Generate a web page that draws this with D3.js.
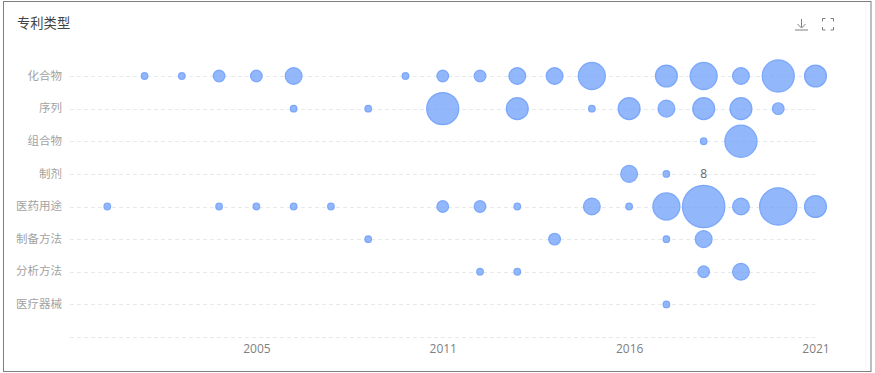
<!DOCTYPE html>
<html>
<head>
<meta charset="utf-8">
<script src="https://cdn.jsdelivr.net/npm/d3@7"></script>
<style>
html, body { margin: 0; padding: 0; background: #fff; }
svg { display: block; }
text { font-family: "Noto Sans CJK SC", "Noto Sans", sans-serif; }
</style>
</head>
<body>
<script>
const years = ["", "2001", "2002", "2003", "2004", "2005", "2006", "2007", "2008", "2009", "2011", "2012", "2013", "2014", "2015", "2016", "2017", "2018", "2019", "2020", "2021"];
const yearLabels = ["2005", "2011", "2016", "2021"];
const types = ["化合物", "序列", "组合物", "制剂", "医药用途", "制备方法", "分析方法", "医疗器械", ""];

// [year, count] per patent type
const compound = [["2002", 1], ["2003", 1], ["2004", 2], ["2005", 2], ["2006", 3], ["2009", 1], ["2011", 2], ["2012", 2], ["2013", 3], ["2014", 3], ["2015", 5], ["2017", 4], ["2018", 5], ["2019", 3], ["2020", 6], ["2021", 4]];
const sequence = [["2006", 1], ["2008", 1], ["2011", 6], ["2013", 4], ["2015", 1], ["2016", 4], ["2017", 3], ["2018", 4], ["2019", 4], ["2020", 2]];
const composition = [["2018", 1], ["2019", 6]];
const formulation = [["2016", 3], ["2017", 1]];
const medical = [["2001", 1], ["2004", 1], ["2005", 1], ["2006", 1], ["2007", 1], ["2011", 2], ["2012", 2], ["2013", 1], ["2015", 3], ["2016", 1], ["2017", 5], ["2018", 8], ["2019", 3], ["2020", 7], ["2021", 4]];
const preparation = [["2008", 1], ["2014", 2], ["2017", 1], ["2018", 3]];
const analysis = [["2012", 1], ["2013", 1], ["2018", 2], ["2019", 3]];
const device = [["2017", 1]];

const rows = [compound, sequence, composition, formulation, medical, preparation, analysis, device];

const width = 875, height = 373;

const svg = d3.select("body").append("svg")
    .attr("width", width)
    .attr("height", height);

// outer frame of the screenshot
svg.append("rect")
    .attr("x", 3.5).attr("y", 1.5)
    .attr("width", 867.5).attr("height", 370)
    .attr("fill", "#fff")
    .attr("stroke", "#7f7f7f");

svg.append("line")
    .attr("x1", 865.5).attr("x2", 865.5)
    .attr("y1", 2).attr("y2", 371)
    .attr("stroke", "#f8f8f8");

svg.append("text")
    .attr("x", 17).attr("y", 28)
    .attr("font-size", "13.3px")
    .attr("fill", "#444")
    .text("专利类型");

const x = d3.scalePoint().domain(years).range([70, 815.5]);
const y = d3.scalePoint().domain(types).range([76, 337]);
const r = d3.scaleLinear().domain([1, 8]).range([3.3, 21.2]);

const xAxis = d3.axisBottom(x).tickValues(yearLabels).tickSize(0).tickPadding(7);
const yAxis = d3.axisLeft(y).tickSize(0).tickPadding(0);

const gx = svg.append("g")
    .attr("transform", `translate(0,${y("")})`)
    .call(xAxis);
gx.select(".domain").remove();
gx.selectAll("text")
    .attr("fill", "#808080")
    .attr("font-size", "12px")
    .style("font-family", '"Open Sans", sans-serif');

const gy = svg.append("g")
    .attr("transform", "translate(62,-0.5)")
    .call(yAxis);
gy.select(".domain").remove();
gy.selectAll("text")
    .attr("fill", "#a3a3a3")
    .attr("font-size", "11.5px");

// dashed row lines
svg.append("g").selectAll("line")
    .data(types)
    .enter().append("line")
    .attr("x1", 70)
    .attr("x2", 815.5)
    .attr("y1", d => Math.round(y(d)) + 0.5)
    .attr("y2", d => Math.round(y(d)) + 0.5)
    .attr("stroke", "#e8e9eb")
    .attr("stroke-dasharray", "4 3");

rows.forEach((row, i) => {
    svg.append("g").selectAll("circle")
        .data(row)
        .enter().append("circle")
        .attr("cx", d => x(d[0]))
        .attr("cy", y(types[i]))
        .attr("r", d => r(d[1]))
        .attr("fill", "#6f9ffa")
        .attr("fill-opacity", 0.75)
        .attr("stroke", "#6f9ffa")
        .attr("stroke-opacity", 0.85)
        .attr("stroke-width", 1.2);
});

// the biggest bubble is the only labelled one
const maxValue = d3.max(medical, d => d[1]);
const maxPoint = medical.find(d => d[1] === maxValue);
svg.append("text")
    .attr("x", x(maxPoint[0]))
    .attr("y", y("医药用途") - r(maxValue) - 7)
    .attr("text-anchor", "middle")
    .attr("font-size", "12px")
    .attr("fill", "#666")
    .style("font-family", '"Open Sans", sans-serif')
    .text(maxValue);

// toolbar icons
const icons = svg.append("g")
    .attr("fill", "none")
    .attr("stroke", "#808080")
    .attr("stroke-width", 1);
icons.append("path").attr("d", "M801.5 19V27.5M797.5 24L801.5 28L805.5 24M795 30H808");
icons.append("path").attr("d", "M822.5 21.5V18.5H825.5M830.5 18.5H833.5V21.5M833.5 27V30H830.5M825.5 30H822.5V27");
</script>
</body>
</html>
